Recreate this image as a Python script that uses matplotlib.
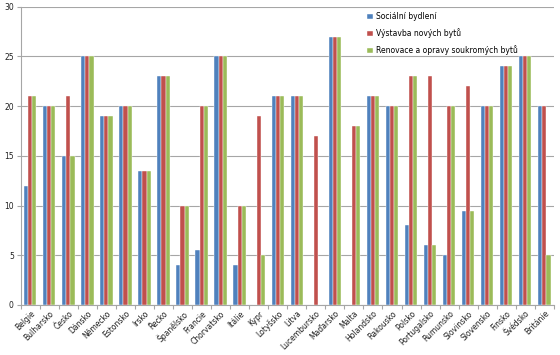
import matplotlib
matplotlib.use("Agg")
import matplotlib.pyplot as plt
import numpy as np

categories = ["Belgie", "Bulharsko", "Česko", "Dánsko", "Německo", "Estonsko", "Irsko",
              "Řecko", "Španělsko", "Francie", "Chorvatsko", "Itálie", "Kypr", "Lotyšsko",
              "Litva", "Lucembursko", "Maďarsko", "Malta", "Holandsko", "Rakousko",
              "Polsko", "Portugalsko", "Rumunsko", "Slovinsko", "Slovensko", "Finsko",
              "Švédsko", "Británie"]
socialni = [12, 20, 15, 25, 19, 20, 13.5, 23, 4, 5.5, 25, 4, 0, 21, 21, 0, 27, 0, 21, 20,
            8, 6, 5, 9.5, 20, 24, 25, 20]
vystavba = [21, 20, 21, 25, 19, 20, 13.5, 23, 10, 20, 25, 10, 19, 21, 21, 17, 27, 18, 21, 20,
            23, 23, 20, 22, 20, 24, 25, 20]
renovace = [21, 20, 15, 25, 19, 20, 13.5, 23, 10, 20, 25, 10, 5, 21, 21, 0, 27, 18, 21, 20,
            23, 6, 20, 9.5, 20, 24, 25, 5]
series_names = ["Sociální bydlení", "Výstavba nových bytů", "Renovace a opravy soukromých bytů"]
colors = ["#4F81BD", "#C0504D", "#9BBB59"]

fig = plt.figure(figsize=(5.6, 3.55), dpi=100)
ax = fig.add_axes([0.037, 0.141, 0.952, 0.840])

x = np.arange(len(categories))
w = 0.217
for i, (vals, name, c) in enumerate(zip([socialni, vystavba, renovace], series_names, colors)):
    ax.bar(x + (i - 1) * w, vals, width=w, color=c, label=name, zorder=3,
           edgecolor="white", linewidth=0.3)

ax.set_xlim(-0.5, len(categories) - 0.5)
ax.set_ylim(0, 30)
ax.set_yticks([0, 5, 10, 15, 20, 25, 30])
ax.yaxis.grid(True, color="#A6A6A6", linewidth=0.8, zorder=0)
ax.set_axisbelow(True)

ax.set_xticks(x)
ax.set_xticklabels(categories, rotation=45, ha="right", rotation_mode="anchor", fontsize=5.5, color="#202020")
ax.set_xticks(np.arange(-0.5, len(categories) + 0.5, 1), minor=True)
ax.tick_params(axis="x", which="major", length=0, pad=3)
ax.tick_params(axis="x", which="minor", length=3, color="#A6A6A6", width=0.8)
ax.tick_params(axis="y", length=3, color="#A6A6A6", width=0.8, labelsize=5.5, labelcolor="#202020", pad=2)

for s in ["top", "right"]:
    ax.spines[s].set_visible(False)
for s in ["left", "bottom"]:
    ax.spines[s].set_color("#A6A6A6")
    ax.spines[s].set_linewidth(0.8)

leg = ax.legend(loc="upper left", bbox_to_anchor=(0.637, 1.005), frameon=False, fontsize=5.5,
                handlelength=0.7, handleheight=0.7, handletextpad=0.4, labelspacing=0.95)

fig.savefig("out.png", dpi=100)
